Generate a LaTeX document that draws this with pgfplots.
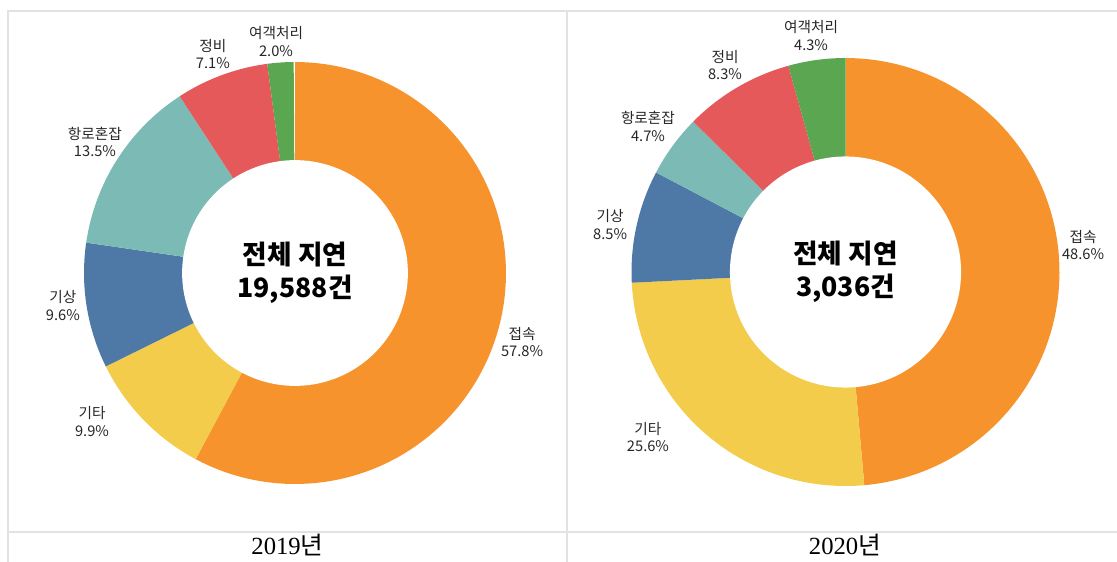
\documentclass[border=0pt]{standalone}
\usepackage{pgfplots}
\pgfplotsset{compat=1.18}
\usepackage{fontspec}
\setmainfont{Noto Sans CJK KR}
\newfontfamily\capfont{Liberation Serif}
\newfontfamily\krfont{Noto Sans CJK KR}

\definecolor{cOrange}{HTML}{F7932D}
\definecolor{cYellow}{HTML}{F2CC4A}
\definecolor{cBlue}{HTML}{4E79A7}
\definecolor{cTeal}{HTML}{7CBBB5}
\definecolor{cRed}{HTML}{E6595B}
\definecolor{cGreen}{HTML}{5BA651}
\definecolor{cFrame}{HTML}{E2E2E2}

\newcommand\cumul{0}
\newcommand{\slice}[2]{%
  \pgfmathsetmacro\sa{90-3.6*\cumul}%
  \pgfmathsetmacro\cumnew{\cumul+#2}%
  \pgfmathsetmacro\sb{90-3.6*\cumnew}%
  \xdef\cumul{\cumnew}%
  \edef\doslice{\noexpand\addplot[fill=#1,draw=none,domain=\sb:\sa,samples=100] ({cos(x)},{sin(x)}) -- (axis cs:0,0) -- cycle;}%
  \doslice}

\pgfplotsset{donut/.style={hide axis, xmin=-1,xmax=1,ymin=-1,ymax=1,
  scale only axis, clip=false, anchor=center}}
\tikzset{lab/.style={align=center, font=\fontsize{11}{12.8}\selectfont, text=black!85},
  ctr/.style={align=center, font=\fontsize{20}{24.5}\selectfont\bfseries}}

\begin{document}
\begin{tikzpicture}
\useasboundingbox (0,0) rectangle (837.75pt,-420.75pt);
\begin{scope}[x=0.75pt,y=-0.75pt]
\draw[cFrame, line width=1.1pt] (8,565)--(8,11)--(1117,11);
\draw[cFrame, line width=1.1pt] (567,11)--(567,565);
\draw[cFrame, line width=1.1pt] (8,532)--(1117,532);
\node[anchor=base] at (287.5,554.5) {\fontsize{18.5}{22}\selectfont\capfont 2019\krfont 년};
\node[anchor=base] at (845,554.5) {\fontsize{18.5}{22}\selectfont\capfont 2020\krfont 년};
\end{scope}

% 2019
\begin{axis}[donut, at={(221.25pt,-204.75pt)}, width=316.5pt, height=316.5pt]
\gdef\cumul{0}
\slice{cOrange}{57.8}
\slice{cYellow}{9.9}
\slice{cBlue}{9.6}
\slice{cTeal}{13.5}
\slice{cRed}{7.1}
\slice{cGreen}{2.0}
\addplot[fill=white,draw=none,domain=0:360,samples=180] ({0.535*cos(x)},{0.535*sin(x)}) -- cycle;
\node[ctr] at (axis cs:0,0) {전체 지연\\19,588건};
\node[lab] at (axis cs:-0.090,1.097) {여객처리\\2.0\%};
\node[lab] at (axis cs:-0.389,1.036) {정비\\7.1\%};
\node[lab] at (axis cs:-0.948,0.623) {항로혼잡\\13.5\%};
\node[lab] at (axis cs:-1.100,-0.154) {기상\\9.6\%};
\node[lab] at (axis cs:-0.962,-0.704) {기타\\9.9\%};
\node[lab] at (axis cs:1.076,-0.325) {접속\\57.8\%};
\end{axis}

% 2020
\begin{axis}[donut, at={(634.125pt,-204pt)}, width=321pt, height=321pt]
\gdef\cumul{0}
\slice{cOrange}{48.6}
\slice{cYellow}{25.6}
\slice{cBlue}{8.5}
\slice{cTeal}{4.7}
\slice{cRed}{8.3}
\slice{cGreen}{4.3}
\addplot[fill=white,draw=none,domain=0:360,samples=180] ({0.54*cos(x)},{0.54*sin(x)}) -- cycle;
\node[ctr] at (axis cs:0,0) {전체 지연\\3,036건};
\node[lab] at (axis cs:-0.161,1.105) {여객처리\\4.3\%};
\node[lab] at (axis cs:-0.563,0.965) {정비\\8.3\%};
\node[lab] at (axis cs:-0.923,0.680) {항로혼잡\\4.7\%};
\node[lab] at (axis cs:-1.100,0.222) {기상\\8.5\%};
\node[lab] at (axis cs:-0.923,-0.769) {기타\\25.6\%};
\node[lab] at (axis cs:1.110,0.124) {접속\\48.6\%};
\end{axis}
\end{tikzpicture}
\end{document}
